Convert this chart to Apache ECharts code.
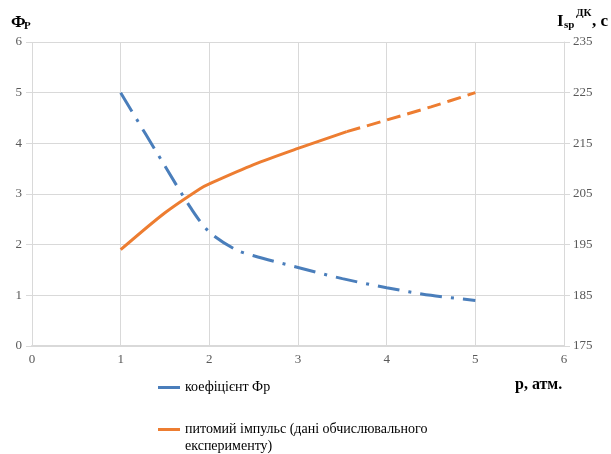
<!DOCTYPE html>
<html>
<head>
    <meta charset="UTF-8">
    <title>Фр та питомий імпульс</title>
    <script src="https://cdn.jsdelivr.net/npm/echarts@6/dist/echarts.min.js"></script>
    <style>
        html, body { margin: 0; padding: 0; background: #fff; }
        #chart { width: 611px; height: 454px; }
    </style>
</head>
<body>
    <div id="chart"></div>
<script type="text/javascript">
    // коефіцієнт Фр
    var phiP = [1, 1.5, 1.8, 2, 2.3, 2.5, 3, 3.5, 4, 4.5, 5];
    var phiVal = [5.0, 3.55, 2.7, 2.25, 1.9, 1.78, 1.55, 1.33, 1.15, 1.0, 0.9];
    // питомий імпульс, суцільна частина
    var ispP = [1, 1.5, 1.9, 2, 2.5, 3, 3.55];
    var ispVal = [194, 201.3, 206.1, 207, 210.8, 214, 217.3];
    // питомий імпульс, пунктирне продовження
    var ispExtP = [3.55, 4, 4.5, 5];
    var ispExtVal = [217.3, 219.6, 222.2, 225];

    var legendNames = ['коефіцієнт Фр', 'питомий імпульс (дані обчислювального експерименту)'];

    function pairs(xs, ys) {
        var out = [];
        for (var i = 0; i < xs.length; i++) out.push([xs[i], ys[i]]);
        return out;
    }

    var font = 'Liberation Serif';
    var blue = '#4a7ebb';
    var orange = '#ed7d31';
    var legendText = { fontFamily: font, fontSize: 14, color: '#000', lineHeight: 17 };

    var option = {
        animation: false,
        textStyle: { fontFamily: font },
        grid: { left: 32, right: 47, top: 42, bottom: 108 },
        legend: [{
            data: [legendNames[0]],
            left: 153,
            top: 374,
            itemWidth: 22,
            itemHeight: 3,
            icon: 'rect',
            textStyle: legendText
        }, {
            data: [legendNames[1]],
            left: 153,
            top: 416,
            itemWidth: 22,
            itemHeight: 34,
            // лінія на рівні першого рядка тексту
            icon: 'path://M0,7H22V10H0Z M0,0H0.05V0.05H0Z M0,33.95H0.05V34H0Z',
            textStyle: legendText,
            formatter: function () {
                return 'питомий імпульс (дані обчислювального\nексперименту)';
            }
        }],
        xAxis: {
            type: 'value',
            min: 0, max: 6, interval: 1,
            axisLine: { show: true, lineStyle: { color: '#d9d9d9', width: 2 } },
            axisTick: { show: false },
            splitLine: { show: true, lineStyle: { color: '#d9d9d9' } },
            axisLabel: { color: '#595959', fontSize: 13, fontFamily: font, margin: 7 }
        },
        yAxis: [{
            type: 'value',
            min: 0, max: 6, interval: 1,
            axisLine: { show: false },
            axisTick: { show: true, length: 6, lineStyle: { color: '#d9d9d9' } },
            splitLine: { show: true, lineStyle: { color: '#d9d9d9' } },
            axisLabel: { color: '#595959', fontSize: 13, fontFamily: font, margin: 10 }
        }, {
            type: 'value',
            min: 175, max: 235, interval: 10,
            position: 'right',
            axisLine: { show: true, lineStyle: { color: '#d9d9d9' } },
            axisTick: { show: true, length: 6, lineStyle: { color: '#d9d9d9' } },
            splitLine: { show: false },
            axisLabel: { color: '#595959', fontSize: 13, fontFamily: font, margin: 9 }
        }],
        series: [{
            name: legendNames[0],
            type: 'line',
            yAxisIndex: 0,
            data: pairs(phiP, phiVal),
            smooth: 0.3,
            symbol: 'none',
            itemStyle: { color: blue },
            lineStyle: { color: blue, width: 3, type: [22, 9, 3, 9] }
        }, {
            name: legendNames[1],
            type: 'line',
            yAxisIndex: 1,
            data: pairs(ispP, ispVal),
            smooth: 0.3,
            symbol: 'none',
            itemStyle: { color: orange },
            lineStyle: { color: orange, width: 3 }
        }, {
            name: 'продовження',
            type: 'line',
            yAxisIndex: 1,
            data: pairs(ispExtP, ispExtVal),
            smooth: 0.3,
            symbol: 'none',
            itemStyle: { color: orange },
            lineStyle: { color: orange, width: 3, type: [14, 7] }
        }],
        graphic: [
            { type: 'text', left: 11, top: 14, style: { text: 'Ф', font: 'bold 17px ' + font, fill: '#000' } },
            { type: 'text', left: 24, top: 21, style: { text: 'P', font: 'bold 11px ' + font, fill: '#000' } },
            { type: 'text', left: 557, top: 13, style: { text: 'I', font: 'bold 17px ' + font, fill: '#000' } },
            { type: 'text', left: 564, top: 20, style: { text: 'sp', font: 'bold 11px ' + font, fill: '#000' } },
            { type: 'text', left: 576, top: 8, style: { text: 'ДК', font: 'bold 11px ' + font, fill: '#000' } },
            { type: 'text', left: 592, top: 13, style: { text: ', с', font: 'bold 17px ' + font, fill: '#000' } },
            { type: 'text', left: 515, top: 377, style: { text: 'р, атм.', font: 'bold 16px ' + font, fill: '#000' } }
        ]
    };
    echarts.init(document.getElementById('chart')).setOption(option);
</script>
</body>
</html>
